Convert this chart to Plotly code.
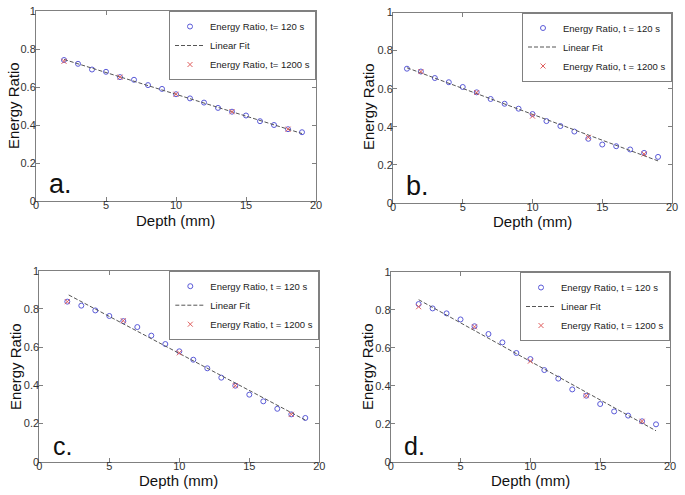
import plotly.graph_objects as go

# ---- data ----
depth_a = [2, 3, 4, 5, 6, 7, 8, 9, 10, 11, 12, 13, 14, 15, 16, 17, 18, 19]
ratio120_a = [0.742, 0.722, 0.692, 0.680, 0.652, 0.638, 0.610, 0.590, 0.562, 0.540, 0.518, 0.490, 0.470, 0.450, 0.420, 0.400, 0.378, 0.362]
depth1200_a = [2, 6, 10, 14, 18]
ratio1200_a = [0.735, 0.652, 0.562, 0.470, 0.378]
fitx_a = [2, 19]
fity_a = [0.745, 0.355]

depth_b = [1, 2, 3, 4, 5, 6, 7, 8, 9, 10, 11, 12, 13, 14, 15, 16, 17, 18, 19]
ratio120_b = [0.705, 0.690, 0.656, 0.634, 0.609, 0.581, 0.546, 0.521, 0.495, 0.467, 0.430, 0.404, 0.375, 0.337, 0.307, 0.298, 0.281, 0.263, 0.242]
depth1200_b = [2, 6, 10, 14, 18]
ratio1200_b = [0.690, 0.580, 0.456, 0.345, 0.257]
fitx_b = [1, 19]
fity_b = [0.710, 0.221]

depth_c = [2, 3, 4, 5, 6, 7, 8, 9, 10, 11, 12, 13, 14, 15, 16, 17, 18, 19]
ratio120_c = [0.838, 0.817, 0.792, 0.763, 0.736, 0.705, 0.660, 0.616, 0.578, 0.534, 0.489, 0.440, 0.398, 0.351, 0.316, 0.277, 0.248, 0.229]
depth1200_c = [2, 6, 10, 14, 18]
ratio1200_c = [0.838, 0.738, 0.570, 0.398, 0.248]
fitx_c = [2.1, 19]
fity_c = [0.873, 0.218]

depth_d = [2, 3, 4, 5, 6, 7, 8, 9, 10, 11, 12, 13, 14, 15, 16, 17, 18, 19]
ratio120_d = [0.831, 0.808, 0.782, 0.750, 0.714, 0.673, 0.629, 0.573, 0.541, 0.483, 0.438, 0.381, 0.348, 0.304, 0.265, 0.243, 0.213, 0.197]
depth1200_d = [2, 6, 10, 14, 18]
ratio1200_d = [0.817, 0.711, 0.530, 0.348, 0.213]
fitx_d = [2, 19]
fity_d = [0.854, 0.163]

x_ticks = [0, 5, 10, 15, 20]
y_ticks = [0, 0.2, 0.4, 0.6, 0.8, 1]
y_ticklabels = ["0", "0.2", "0.4", "0.6", "0.8", "1"]
panel_labels = ["a.", "b.", "c.", "d."]
x_title = "Depth (mm)"
y_title = "Energy Ratio"
legend_120 = ["Energy Ratio, t= 120 s", "Energy Ratio, t = 120 s", "Energy Ratio, t = 120 s", "Energy Ratio, t = 120 s"]
legend_fit = "Linear Fit"
legend_1200 = ["Energy Ratio, t= 1200 s", "Energy Ratio, t = 1200 s", "Energy Ratio, t = 1200 s", "Energy Ratio, t = 1200 s"]

panels = [
    (depth_a, ratio120_a, depth1200_a, ratio1200_a, fitx_a, fity_a),
    (depth_b, ratio120_b, depth1200_b, ratio1200_b, fitx_b, fity_b),
    (depth_c, ratio120_c, depth1200_c, ratio1200_c, fitx_c, fity_c),
    (depth_d, ratio120_d, depth1200_d, ratio1200_d, fitx_d, fity_d),
]

W, H = 685, 495
# pixel boxes of plot areas: (left, right, top, bottom)
boxes = [(36, 316, 11, 201), (393, 672, 12.5, 203), (39.3, 319.3, 270.7, 461.7), (390.7, 670, 272, 461.7)]
# axis title centres in pixels: (x-title cx, cy), (y-title cx, cy)
xtitle_pos = [(175, 220), (532, 221), (178, 480), (530, 480)]
ytitle_pos = [(13, 106), (368, 107), (15, 367), (367, 367)]
label_sizes = [27, 27, 25, 25]

BLUE = "#5a5ad8"
RED = "#e06060"
GRAY = "#808080"
FONT = "Liberation Sans, Arial, sans-serif"

fig = go.Figure()
layout = dict(width=W, height=H, margin=dict(l=0, r=0, t=0, b=0, pad=0, autoexpand=False),
              paper_bgcolor="white", plot_bgcolor="white",
              font=dict(family=FONT, color="#222222"), showlegend=True)
annotations = []
for i, (dx, r120, dx12, r1200, fx, fy) in enumerate(panels):
    n = "" if i == 0 else str(i + 1)
    xa, ya = "x" + n, "y" + n
    lg = "legend" + n
    fig.add_trace(go.Scatter(x=dx, y=r120, mode="markers", name=legend_120[i],
                             marker=dict(symbol="circle-open", size=5, color=BLUE, line=dict(width=1)),
                             xaxis=xa, yaxis=ya, legend=lg))
    fig.add_trace(go.Scatter(x=fx, y=fy, mode="lines", name=legend_fit,
                             line=dict(color="#555555", width=1, dash="4px,2px"),
                             xaxis=xa, yaxis=ya, legend=lg))
    fig.add_trace(go.Scatter(x=dx12, y=r1200, mode="markers", name=legend_1200[i],
                             marker=dict(symbol="x-thin-open", size=5, color=RED, line=dict(width=1, color=RED)),
                             xaxis=xa, yaxis=ya, legend=lg))
    l, r, t, b = boxes[i]
    xd = [l / W, r / W]
    yd = [1 - b / H, 1 - t / H]
    common = dict(showline=True, linecolor=GRAY, linewidth=1, mirror="allticks",
                  ticks="inside", ticklen=4, tickcolor=GRAY, showgrid=False, zeroline=False,
                  automargin=False, tickfont=dict(size=11, color="#333333", family=FONT))
    layout["xaxis" + n] = dict(domain=xd, range=[0, 20], tickvals=x_ticks, anchor=ya,
                               ticklabelstandoff=-6, **common)
    layout["yaxis" + n] = dict(domain=yd, range=[0, 1], tickvals=y_ticks, ticktext=y_ticklabels,
                               anchor=xa, ticklabelstandoff=-3, **common)
    layout[lg] = dict(x=xd[1], y=yd[1], xanchor="right", yanchor="top", xref="paper", yref="paper",
                      bgcolor="white", bordercolor=GRAY, borderwidth=1,
                      font=dict(size=9.5, color="#222222", family=FONT), tracegroupgap=0)
    annotations.append(dict(text=panel_labels[i], xref=xa, yref=ya, x=0.8, y=0.0, xanchor="left",
                            yanchor="bottom", showarrow=False,
                            font=dict(size=label_sizes[i], color="#111111", family=FONT)))
    cx, cy = xtitle_pos[i]
    annotations.append(dict(text=x_title, xref="paper", yref="paper", x=cx / W, y=1 - cy / H,
                            xanchor="center", yanchor="middle", showarrow=False,
                            font=dict(size=15, color="#111111", family=FONT)))
    cx, cy = ytitle_pos[i]
    annotations.append(dict(text=y_title, xref="paper", yref="paper", x=cx / W, y=1 - cy / H,
                            xanchor="center", yanchor="middle", showarrow=False, textangle=-90,
                            font=dict(size=15, color="#111111", family=FONT)))
layout["annotations"] = annotations
fig.update_layout(**layout)
fig.write_html("out.html", config={"displayModeBar": False},
               post_script="document.body.style.margin='0';document.body.style.overflow='hidden';")
